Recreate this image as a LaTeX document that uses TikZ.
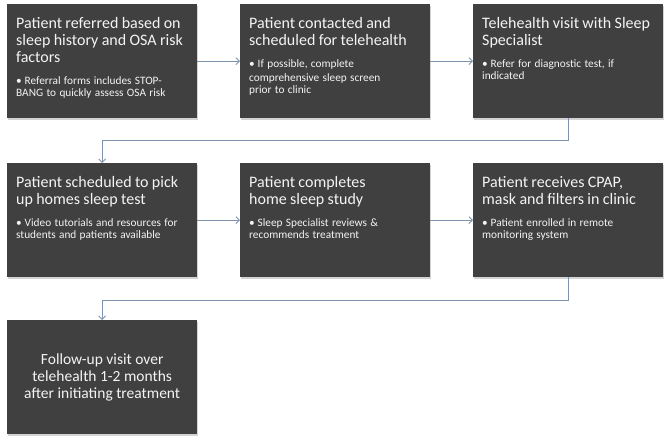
\documentclass[tikz,border=0pt]{standalone}
\usepackage{fontspec}
\setmainfont{Carlito}
\usetikzlibrary{arrows.meta,shadows}
\definecolor{boxfill}{HTML}{404040}
\definecolor{linec}{HTML}{7F93AD}
\definecolor{txtc}{HTML}{F4F4F4}
\newcommand{\ttl}{\fontsize{16}{17}\selectfont}
\newcommand{\bul}[1]{\par\vspace{9pt}\fontsize{11.3}{13.5}\selectfont\hangindent=8.5pt\hangafter=1\makebox[8.5pt][l]{•}#1}
\begin{document}
\begin{tikzpicture}[x=1pt,y=-1pt,
  box/.style={fill=boxfill, minimum width=190pt, minimum height=114pt, anchor=north west, inner sep=0pt,
    drop shadow={shadow xshift=1pt, shadow yshift=-1.5pt, opacity=0.35}},
  txtnode/.style={anchor=base west, text width=180pt, align=left, inner sep=0pt, text=txtc},
  conn/.style={draw=linec, line width=0.9pt, -{Straight Barb[length=3.5pt,width=7pt]}}]
\useasboundingbox (0,0) rectangle (670,442);

\node[box] (b1) at (7,4) {};
\node[box] (b2) at (240,4) {};
\node[box] (b3) at (473,4) {};
\node[box] (b4) at (7,163) {};
\node[box] (b5) at (240,163) {};
\node[box] (b6) at (473,163) {};
\node[box] (b7) at (7,320) {};

\node[txtnode] (t1) at ([xshift=9pt,yshift=-24pt]b1.north west)
  {\ttl Patient referred based on\\ sleep history and OSA risk\\ factors\bul{Referral forms includes STOP-\\BANG to quickly assess OSA risk}};
\node[txtnode] (t2) at ([xshift=9pt,yshift=-24pt]b2.north west)
  {\ttl Patient contacted and\\ scheduled for telehealth\bul{If possible, complete\\ comprehensive sleep screen\\ prior to clinic}};
\node[txtnode] (t3) at ([xshift=9pt,yshift=-24pt]b3.north west)
  {\ttl Telehealth visit with Sleep\\ Specialist\bul{Refer for diagnostic test, if\\ indicated}};
\node[txtnode] (t4) at ([xshift=9pt,yshift=-24pt]b4.north west)
  {\ttl Patient scheduled to pick\\ up homes sleep test\bul{Video tutorials and resources for\\ students and patients available}};
\node[txtnode] (t5) at ([xshift=9pt,yshift=-24pt]b5.north west)
  {\ttl Patient completes\\ home sleep study\bul{Sleep Specialist reviews \&\\ recommends treatment}};
\node[txtnode] (t6) at ([xshift=9pt,yshift=-24pt]b6.north west)
  {\ttl Patient receives CPAP,\\ mask and filters in clinic\bul{Patient enrolled in remote\\ monitoring system}};
\node[text=txtc, align=center, font=\fontsize{15.5}{17}\selectfont] (t7) at (b7.center)
  {Follow-up visit over\\ telehealth 1-2 months\\ after initiating treatment};

\draw[conn] (b1.east) -- (b2.west);
\draw[conn] (b2.east) -- (b3.west);
\draw[conn] (b3.south) -- ++(0,22) -| (b4.north);
\draw[conn] (b4.east) -- (b5.west);
\draw[conn] (b5.east) -- (b6.west);
\draw[conn] (b6.south) -- ++(0,23) -| (b7.north);
\end{tikzpicture}
\end{document}
